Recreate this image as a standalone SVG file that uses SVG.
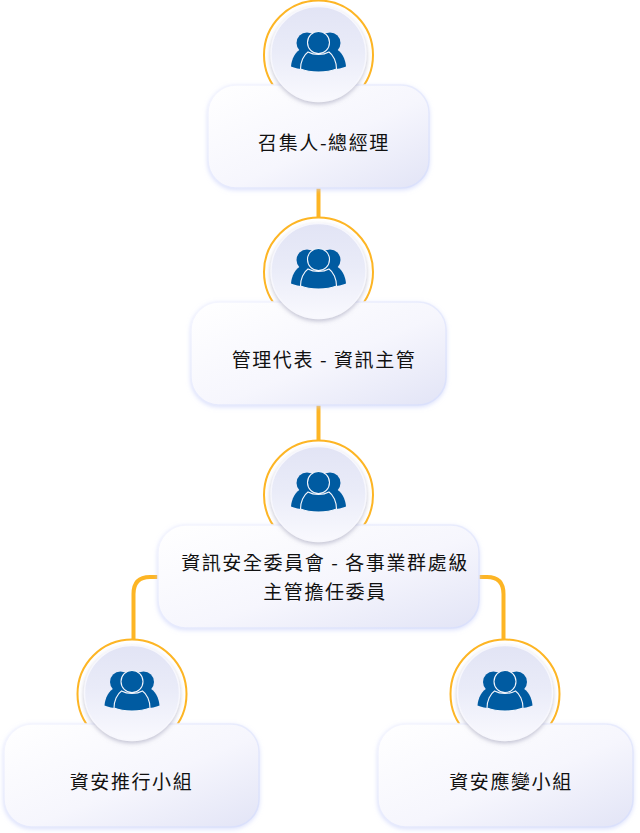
<svg xmlns="http://www.w3.org/2000/svg" width="640" height="833" viewBox="0 0 640 833">
<style>
.t{font-family:"Noto Sans CJK TC","Noto Sans CJK SC",sans-serif;font-size:19px;fill:#111;letter-spacing:1.6px;text-anchor:middle}
.box{fill:url(#bg);stroke:url(#bl);stroke-width:1.5;filter:url(#bs)}
.disc{fill:url(#cg);stroke:#f7f7fd;stroke-width:1.500;filter:url(#cs)}
.ring{fill:#fff;stroke:#fdb524;stroke-width:2}
.c{fill:none;stroke:#fdb524;stroke-width:4}
.w{fill:#005ba1}
.l{stroke:#f4f6fc;stroke-width:1.100}
</style>
<defs>
<linearGradient id="bg" x1="0" y1="0" x2="1" y2="1"><stop offset="0" stop-color="#fff"/><stop offset=".55" stop-color="#f6f6fd"/><stop offset="1" stop-color="#e2e4f6"/></linearGradient>
<linearGradient id="bl" x1="0" y1="0" x2="1" y2="1"><stop offset="0" stop-color="#f5f6fe"/><stop offset="1" stop-color="#d9dffb"/></linearGradient>
<linearGradient id="cg" x1="0" y1="0" x2="0" y2="1"><stop offset="0" stop-color="#e2e4f5"/><stop offset=".45" stop-color="#e9ebf8"/><stop offset="1" stop-color="#f9f9fe"/></linearGradient>
<filter id="bs" x="-10%" y="-15%" width="120%" height="130%"><feDropShadow dx="0" dy="1.500" stdDeviation="2" flood-color="#c5cdfa" flood-opacity=".6"/></filter>
<filter id="cs" x="-20%" y="-20%" width="140%" height="140%"><feDropShadow dx="0" dy="2" stdDeviation="2" flood-color="#8a8aa8" flood-opacity=".5"/></filter>
<g id="ic">
<circle class="w" cx="-11.500" cy="-8" r="10.500"/>
<circle class="w" cx="11.500" cy="-8" r="10.500"/>
<path class="w" d="M-17-2C-23 0-27 8-27.500 15.500C-24 17-19 18-13 18.500L13 18.500C19 18 24 17 27.500 15.500C27 8 23 0 17-2Z"/>
<circle class="w l" cx="0" cy="-8.500" r="11"/>
<path class="w l" d="M-10.500 1C-15 4-18 11-18 18C-12 20.500-6 21 0 21C6 21 12 20.500 18 18C18 11 15 4 10.500 1C7 3 3 3.500 0 3.500C-3 3.500-7 3-10.500 1Z"/>
</g>
</defs>

<g id="connectors">
<path class="c" d="M318.500 186V222"/>
<path class="c" d="M318.500 403V445"/>
<path class="c" d="M160 577H150Q133.500 577 133.500 594V642"/>
<path class="c" d="M478 577H487Q503.500 577 503.500 594V642"/>
</g>

<g id="node-1">
<circle class="ring" cx="318.500" cy="55" r="54.500"/>
<rect class="box" x="208" y="85" width="221" height="103" rx="28"/>
<circle class="disc" cx="318.500" cy="54" r="47.500"/>
<use href="#ic" x="318.500" y="51"/>
<text class="t" x="324" y="150">召集人-總經理</text>
</g>
<g id="node-2">
<circle class="ring" cx="318.500" cy="272" r="54.500"/>
<rect class="box" x="191" y="302" width="255" height="103" rx="28"/>
<circle class="disc" cx="318.500" cy="271" r="47.500"/>
<use href="#ic" x="318.500" y="268"/>
<text class="t" x="324" y="367">管理代表 - 資訊主管</text>
</g>
<g id="node-3">
<circle class="ring" cx="318.500" cy="495" r="54.500"/>
<rect class="box" x="158" y="525" width="321" height="103" rx="28"/>
<circle class="disc" cx="318.500" cy="494" r="47.500"/>
<use href="#ic" x="318.500" y="491"/>
<text class="t" x="325" y="570">資訊安全委員會 - 各事業群處級</text>
<text class="t" x="325" y="599">主管擔任委員</text>
</g>
<g id="node-4">
<circle class="ring" cx="132" cy="694" r="54.500"/>
<rect class="box" x="4" y="724" width="255" height="103" rx="28"/>
<circle class="disc" cx="132" cy="693" r="47.500"/>
<use href="#ic" x="132" y="690"/>
<text class="t" x="131.500" y="789">資安推行小組</text>
</g>
<g id="node-5">
<circle class="ring" cx="505" cy="694" r="54.500"/>
<rect class="box" x="378" y="724" width="255" height="103" rx="28"/>
<circle class="disc" cx="505" cy="693" r="47.500"/>
<use href="#ic" x="505" y="690"/>
<text class="t" x="511" y="789">資安應變小組</text>
</g>
</svg>
